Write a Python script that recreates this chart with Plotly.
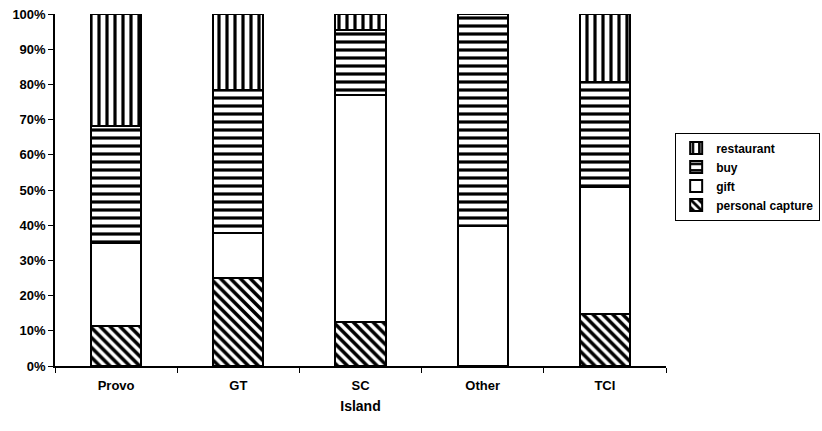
import plotly.graph_objects as go

islands = ["Provo", "GT", "SC", "Other", "TCI"]
personal_capture = [11.4, 25.0, 12.6, 0.0, 14.7]
gift = [23.6, 12.9, 64.4, 39.8, 36.1]
buy = [33.2, 40.5, 18.5, 60.2, 30.0]
restaurant = [31.8, 21.6, 4.5, 0.0, 19.2]

series = [
    ("personal capture", personal_capture, "\\", 7, 0.5),
    ("gift", gift, "", 8, 0.3),
    ("buy", buy, "-", 8, 0.4),
    ("restaurant", restaurant, "|", 8, 0.4),
]

FAMILY = "Liberation Sans, Arial, sans-serif"

fig = go.Figure()
for name, vals, shape, size, solidity in series:
    fig.add_trace(go.Bar(
        name=name,
        x=islands,
        y=vals,
        width=0.41,
        marker=dict(
            color="white",
            line=dict(color="black", width=2),
            pattern=dict(shape=shape, fgcolor="black", bgcolor="white",
                         size=size, solidity=solidity, fillmode="overlay",
                         fgopacity=1),
        ),
    ))

fig.update_layout(
    barmode="stack",
    width=822,
    height=431,
    margin=dict(l=55, r=156, t=14, b=65, autoexpand=False),
    paper_bgcolor="white",
    plot_bgcolor="white",
    font=dict(family=FAMILY, size=12, color="black"),
    showlegend=True,
    legend=dict(
        traceorder="reversed",
        x=1.015, xanchor="left",
        y=0.663, yanchor="top",
        bordercolor="black", borderwidth=1,
        bgcolor="white",
        itemwidth=30,
        font=dict(family=FAMILY, size=12, color="black", weight="bold"),
        tracegroupgap=0,
    ),
    xaxis=dict(
        title=dict(text="<b>Island</b>", standoff=9,
                   font=dict(family=FAMILY, size=14, color="black")),
        automargin=False,
        showline=True, linecolor="black", linewidth=1.5,
        ticks="outside", tickson="boundaries", ticklen=5, tickcolor="black",
        ticklabelstandoff=7,
        tickfont=dict(family=FAMILY, size=13, color="black", weight="bold"),
        showgrid=False,
        range=[-0.5, 4.5],
    ),
    yaxis=dict(
        range=[0, 100],
        automargin=False,
        tickvals=list(range(0, 101, 10)),
        ticktext=[f"{v}%" for v in range(0, 101, 10)],
        tickfont=dict(family=FAMILY, size=13, color="black", weight="bold"),
        showline=True, linecolor="black", linewidth=1.5,
        ticks="outside", ticklen=5, tickcolor="black",
        showgrid=False, zeroline=False,
    ),
)

fig.write_html("out.html")
